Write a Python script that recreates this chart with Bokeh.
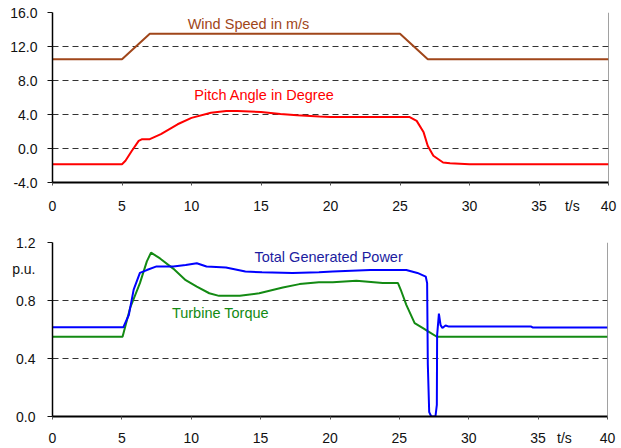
from bokeh.plotting import figure
from bokeh.layouts import column
from bokeh.models import Range1d, FixedTicker, PrintfTickFormatter, Span, Label
from bokeh.embed import file_html
from bokeh.resources import INLINE

# ---- data (top chart) ----
wind_t = [0, 5, 7, 25, 27, 40]
wind_v = [10.5, 10.5, 13.5, 13.5, 10.5, 10.5]

pitch_t = [0, 5, 5.25, 5.7, 6.2, 6.45, 7.0, 7.8, 9.0, 10.0, 11.4, 12.5, 13.3, 15.0,
           16.4, 17.6, 19.2, 20, 25.7, 26.2, 26.7, 27.0, 27.4, 28.1, 28.6, 30, 40]
pitch_v = [-1.85, -1.85, -1.45, -0.3, 0.9, 1.1, 1.1, 1.7, 2.85, 3.6, 4.2, 4.4, 4.4, 4.3,
           4.05, 3.9, 3.76, 3.7, 3.7, 3.25, 1.9, 0.3, -0.85, -1.65, -1.73, -1.85, -1.85]

# ---- data (bottom chart) ----
power_t = [0, 5.1, 5.5, 5.85, 6.3, 6.8, 7.5, 8.7, 9.6, 10.4, 11.1, 12.5, 13.9, 15.1,
           17.3, 19.2, 20.2, 22.9, 25.5, 26.3, 26.9, 27.0, 27.05, 27.15, 27.3, 27.6,
           27.7, 27.72, 27.85, 27.97, 28.1, 28.33, 28.57, 34.5, 34.6, 40]
power_v = [0.615, 0.615, 0.70, 0.875, 0.99, 1.01, 1.035, 1.035, 1.045, 1.057, 1.035,
           1.028, 1.0, 0.995, 0.99, 0.995, 1.0, 1.01, 1.01, 0.99, 0.965, 0.92, 0.36,
           0.03, 0.0, 0.0, 0.08, 0.56, 0.71, 0.63, 0.61, 0.628, 0.62, 0.62, 0.614, 0.614]

torque_t = [0, 5.05, 5.6, 6.3, 6.8, 7.1, 7.75, 8.7, 9.6, 10.4, 11.3, 12.0, 13.5, 14.9,
            16.6, 17.8, 19.2, 20.2, 21.9, 23.8, 24.9, 25.1, 25.5, 26.1, 26.7, 27.1, 27.7, 40]
torque_v = [0.55, 0.55, 0.75, 0.92, 1.07, 1.13, 1.09, 1.02, 0.94, 0.895, 0.85, 0.832,
            0.832, 0.85, 0.89, 0.913, 0.926, 0.926, 0.936, 0.92, 0.92, 0.874, 0.77,
            0.644, 0.61, 0.586, 0.55, 0.55]

x_ticks = [0, 5, 10, 15, 20, 25, 30, 35, 40]
top_yticks = [-4, 0, 4, 8, 12, 16]
bot_yticks = [0, 0.4, 0.8, 1.2]
time_unit = "t/s"
power_unit = "p.u."

FONT = "Liberation Sans"
FS = "14px"
AFS = "14.5px"
TXT = "#111111"


def style(p, yticks, x_std, y_std, tpos, ypos):
    p.outline_line_color = None
    p.background_fill_color = "white"
    p.border_fill_color = "white"
    # labels on "major" ticks (incl. unit label), tick marks drawn as "minor" ticks
    p.xaxis.ticker = FixedTicker(ticks=x_ticks + [tpos], minor_ticks=x_ticks)
    p.xaxis.major_label_overrides = {tpos: time_unit}
    y_major = list(yticks) + ([ypos] if ypos is not None else [])
    p.yaxis.ticker = FixedTicker(ticks=y_major, minor_ticks=yticks)
    p.yaxis.formatter = PrintfTickFormatter(format="%.1f")
    if ypos is not None:
        p.yaxis.major_label_overrides = {ypos: power_unit}
    for ax in (p.xaxis, p.yaxis):
        ax.axis_line_color = "black"
        ax.major_tick_line_color = None
        ax.major_tick_in = 0
        ax.major_tick_out = 0
        ax.minor_tick_in = 0
        ax.major_label_text_font = FONT
        ax.major_label_text_font_size = FS
        ax.major_label_text_color = TXT
    p.xaxis.minor_tick_out = 3
    p.xaxis.minor_tick_line_color = "#555555"
    p.yaxis.minor_tick_out = 5
    p.yaxis.minor_tick_line_color = "#111111"
    p.xaxis.axis_line_width = 2
    p.yaxis.axis_line_width = 1.5
    p.xaxis.major_label_standoff = x_std
    p.yaxis.major_label_standoff = y_std
    p.xgrid.grid_line_color = None
    p.ygrid.ticker = FixedTicker(ticks=yticks)
    p.ygrid.grid_line_color = "#333333"
    p.ygrid.grid_line_dash = "6 4"
    p.ygrid.grid_line_width = 1
    p.add_layout(Span(location=40, dimension="height", line_color="#444444", line_width=1))


# ---------------- top chart ----------------
p1 = figure(frame_width=556, frame_height=170, x_range=Range1d(0, 40), y_range=Range1d(-4, 16),
            output_backend="svg", toolbar_location=None,
            min_border_left=49, min_border_right=16, min_border_top=12, min_border_bottom=36)
style(p1, top_yticks, 12, 10, 37.4, None)
p1.line(wind_t, wind_v, line_color="#A0461A", line_width=2)
p1.line(pitch_t, pitch_v, line_color="#FF0000", line_width=2)
p1.add_layout(Label(x=14.1, y=14.7, text="Wind Speed in m/s", text_align="center",
                    text_baseline="middle", text_font=FONT, text_font_size=AFS,
                    text_color="#A0461A"))
p1.add_layout(Label(x=15.25, y=6.24, text="Pitch Angle in Degree", text_align="center",
                    text_baseline="middle", text_font=FONT, text_font_size=AFS,
                    text_color="#FF0000"))

# ---------------- bottom chart ----------------
p2 = figure(frame_width=555, frame_height=174, x_range=Range1d(0, 40), y_range=Range1d(0, 1.2),
            output_backend="svg", toolbar_location=None,
            min_border_left=52, min_border_right=14, min_border_top=24, min_border_bottom=29)
style(p2, bot_yticks, 10, 12, 36.9, 1.02)
p2.line(torque_t, torque_v, line_color="#138A13", line_width=2)
p2.line(power_t, power_v, line_color="#0000FF", line_width=2)
p2.add_layout(Label(x=19.9, y=1.10, text="Total Generated Power", text_align="center",
                    text_baseline="middle", text_font=FONT, text_font_size=AFS,
                    text_color="#1C1CA0"))
p2.add_layout(Label(x=12.1, y=0.717, text="Turbine Torque", text_align="center",
                    text_baseline="middle", text_font=FONT, text_font_size=AFS,
                    text_color="#138A13"))

layout = column(p1, p2, spacing=0)
open("out.html", "w").write(file_html(layout, INLINE))
